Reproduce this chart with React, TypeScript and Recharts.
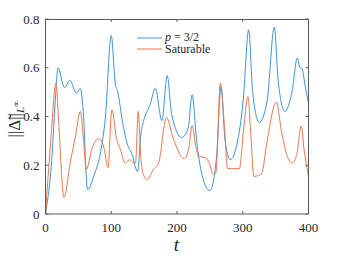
import { LineChart, Line, XAxis, YAxis, Legend } from 'recharts';

// p = 3/2 trace
const blueT = [0, 10, 15, 19, 29, 37, 47, 53, 57, 64, 74, 84, 91, 100, 106, 110, 117, 124, 131, 140, 145, 149, 159, 167, 177, 185, 192, 207, 217, 223, 230, 238, 250, 260, 267, 273, 281, 291, 301, 309, 315, 325, 337, 348, 354, 364, 375, 383, 387, 390, 395, 400];
const blueV = [0, 0.24, 0.47, 0.6, 0.518, 0.548, 0.496, 0.514, 0.435, 0.1, 0.16, 0.257, 0.394, 0.732, 0.537, 0.5, 0.38, 0.291, 0.25, 0.175, 0.325, 0.38, 0.448, 0.516, 0.383, 0.568, 0.407, 0.314, 0.352, 0.489, 0.298, 0.161, 0.096, 0.23, 0.523, 0.305, 0.223, 0.284, 0.476, 0.756, 0.503, 0.376, 0.462, 0.767, 0.544, 0.421, 0.503, 0.64, 0.6, 0.598, 0.523, 0.455];

// Saturable trace
const orangeT = [0, 8, 16, 20, 28, 38, 46, 53, 58, 62, 71, 81, 89, 95, 101, 108, 114, 121, 128, 134, 137, 141, 145, 149, 155, 164, 172, 184, 194, 211, 218, 223, 229, 233, 243, 249, 255, 259, 266, 272, 277, 295, 301, 308, 312, 317, 324, 329, 337, 351, 359, 367, 375, 382, 389, 393, 400];
const orangeV = [0, 0.298, 0.537, 0.38, 0.068, 0.216, 0.325, 0.421, 0.298, 0.182, 0.27, 0.309, 0.27, 0.191, 0.428, 0.31, 0.264, 0.209, 0.223, 0.209, 0.21, 0.421, 0.23, 0.161, 0.141, 0.182, 0.209, 0.396, 0.312, 0.227, 0.271, 0.363, 0.271, 0.236, 0.232, 0.209, 0.164, 0.168, 0.537, 0.366, 0.186, 0.186, 0.339, 0.482, 0.339, 0.154, 0.158, 0.168, 0.298, 0.459, 0.339, 0.243, 0.209, 0.243, 0.362, 0.27, 0.154];

const xTicks = [0, 100, 200, 300, 400];
const yTicks = [0, 0.2, 0.4, 0.6, 0.8];
const yTickLabels = ['0', '0.2', '0.4', '0.6', '0.8'];

const blueData = blueT.map((t, i) => ({ t, v: blueV[i] }));
const orangeData = orangeT.map((t, i) => ({ t, v: orangeV[i] }));

const FONT = "'Liberation Serif', 'DejaVu Serif', serif";
const AXIS = '#5a5a5a';
const TEXT = '#262626';
const BLUE = '#3f95d4';
const ORANGE = '#e6784f';
const TICK = 3;

// chart layout
const W = 341;
const H = 256;
const M = { top: 19, right: 32.5, bottom: 0, left: 0 };
const Y_AXIS_W = 45.5;
const X_AXIS_H = 42;
const PLOT_W = W - M.left - M.right - Y_AXIS_W;
const PLOT_H = H - M.top - M.bottom - X_AXIS_H;

// bottom tick label + inward ticks on bottom and top edges
const BottomTick = (props: any) => {
  const { x, y, payload } = props;
  const top = y - PLOT_H;
  return (
    <g>
      <path d={`M${x},${y}V${y - TICK}M${x},${top}V${top + TICK}`} stroke={AXIS} fill="none" />
      <text x={x} y={y + 18} textAnchor="middle" fill={TEXT} fontFamily={FONT} fontSize={13}>
        {payload.value}
      </text>
    </g>
  );
};

// left tick label + inward ticks on left and right edges
const LeftTick = (props: any) => {
  const { x, y, index } = props;
  const right = x + PLOT_W;
  return (
    <g>
      <path d={`M${x},${y}H${x + TICK}M${right},${y}H${right - TICK}`} stroke={AXIS} fill="none" />
      <text x={x - 6} y={y + 4.5} textAnchor="end" fill={TEXT} fontFamily={FONT} fontSize={13}>
        {yTickLabels[index]}
      </text>
    </g>
  );
};

const YLabel = () => (
  <text transform="translate(19.5,119) rotate(-90)" textAnchor="middle" fill={TEXT} fontFamily={FONT}>
    <tspan fontSize={17}>{'||\u0394\u0303||'}</tspan>
    <tspan fontSize={11} fontStyle="italic" dy={4}>L</tspan>
    <tspan fontSize={9} dy={-5}>{'\u221E'}</tspan>
  </text>
);

const XLabel = () => (
  <text x={176.5} y={251} textAnchor="middle" fill={TEXT} fontFamily={FONT} fontSize={19} fontStyle="italic">
    t
  </text>
);

const LegendBox = () => (
  <div style={{ fontFamily: FONT, fontSize: 12, color: TEXT, lineHeight: '11.5px' }}>
    <div style={{ display: 'flex', alignItems: 'center', height: 11.5 }}>
      <svg width={26} height={4}><line x1={0} x2={25} y1={2} y2={2} stroke={BLUE} /></svg>
      <span style={{ marginLeft: 2 }}><i>p</i> = 3/2</span>
    </div>
    <div style={{ display: 'flex', alignItems: 'center', height: 11.5 }}>
      <svg width={26} height={4}><line x1={0} x2={25} y1={2} y2={2} stroke={ORANGE} /></svg>
      <span style={{ marginLeft: 2 }}>Saturable</span>
    </div>
  </div>
);

export default function App() {
  return (
    <div style={{ position: 'absolute', left: 0, top: 0, width: W, height: H, background: '#fff' }}>
      <LineChart width={W} height={H} margin={M}>
        <XAxis
          dataKey="t"
          type="number"
          domain={[0, 400]}
          ticks={xTicks}
          height={X_AXIS_H}
          stroke={AXIS}
          tickLine={false}
          tickSize={0}
          tickMargin={0}
          tick={<BottomTick />}
          label={<XLabel />}
        />
        <YAxis
          type="number"
          domain={[0, 0.8]}
          ticks={yTicks}
          width={Y_AXIS_W}
          stroke={AXIS}
          tickLine={false}
          tickSize={0}
          tickMargin={0}
          tick={<LeftTick />}
          label={<YLabel />}
        />
        <Legend
          layout="horizontal"
          verticalAlign="middle"
          align="center"
          wrapperStyle={{ left: 137, top: 32, width: 'auto' }}
          content={<LegendBox />}
        />
        <Line
          data={blueData}
          dataKey="v"
          type="monotone"
          stroke={BLUE}
          strokeWidth={1}
          dot={false}
          isAnimationActive={false}
        />
        <Line
          data={orangeData}
          dataKey="v"
          type="monotone"
          stroke={ORANGE}
          strokeWidth={1}
          dot={false}
          isAnimationActive={false}
        />
      </LineChart>
      {/* plot frame (box on) */}
      <div
        style={{
          position: 'absolute',
          left: M.left + Y_AXIS_W - 0.5,
          top: M.top,
          width: PLOT_W + 1,
          height: PLOT_H,
          borderTop: `1px solid ${AXIS}`,
          borderRight: `1px solid ${AXIS}`,
          boxSizing: 'border-box',
          pointerEvents: 'none',
          zIndex: 10,
        }}
      />
    </div>
  );
}
